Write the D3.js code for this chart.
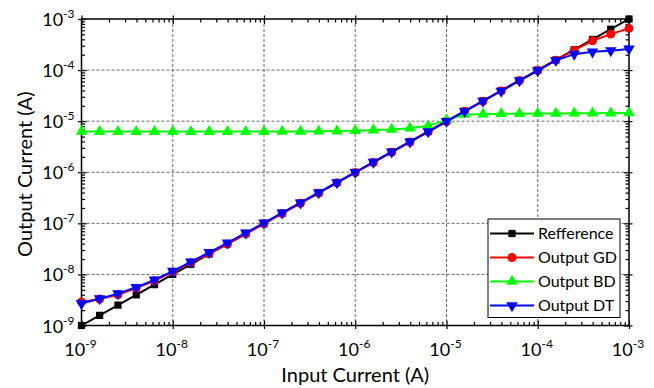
<!DOCTYPE html>
<html>
<head>
<meta charset="utf-8">
<script src="https://cdn.jsdelivr.net/npm/d3@7"></script>
<style>
  html, body { margin: 0; padding: 0; background: #fff; }
  svg { display: block; font-family: Lato, "Open Sans", sans-serif; }
</style>
</head>
<body>
<div id="chart"></div>
<script>
// input current (A), 5 points per decade
const inputCurrent = [1e-9, 1.58e-9, 2.51e-9, 3.98e-9, 6.31e-9, 1e-8, 1.58e-8, 2.51e-8, 3.98e-8, 6.31e-8,
  1e-7, 1.58e-7, 2.51e-7, 3.98e-7, 6.31e-7, 1e-6, 1.58e-6, 2.51e-6, 3.98e-6, 6.31e-6,
  1e-5, 1.58e-5, 2.51e-5, 3.98e-5, 6.31e-5, 1e-4, 1.58e-4, 2.51e-4, 3.98e-4, 6.31e-4, 1e-3];

const refference = [1e-9, 1.58e-9, 2.51e-9, 3.98e-9, 6.31e-9, 1e-8, 1.58e-8, 2.51e-8, 3.98e-8, 6.31e-8,
  1e-7, 1.58e-7, 2.51e-7, 3.98e-7, 6.31e-7, 1e-6, 1.58e-6, 2.51e-6, 3.98e-6, 6.31e-6,
  1e-5, 1.58e-5, 2.51e-5, 3.98e-5, 6.31e-5, 1e-4, 1.58e-4, 2.51e-4, 3.98e-4, 6.31e-4, 1e-3];

const outputGD = [2.9e-9, 3.3e-9, 4.0e-9, 5.4e-9, 7.5e-9, 1.12e-8, 1.7e-8, 2.55e-8, 3.9e-8, 6.2e-8,
  9.8e-8, 1.55e-7, 2.47e-7, 3.9e-7, 6.2e-7, 9.8e-7, 1.55e-6, 2.47e-6, 3.9e-6, 6.2e-6,
  9.8e-6, 1.55e-5, 2.47e-5, 3.9e-5, 6.2e-5, 9.8e-5, 1.56e-4, 2.45e-4, 3.75e-4, 5.05e-4, 6.55e-4];

const outputBD = [6.3e-6, 6.25e-6, 6.25e-6, 6.25e-6, 6.25e-6, 6.25e-6, 6.25e-6, 6.25e-6, 6.25e-6, 6.25e-6,
  6.25e-6, 6.3e-6, 6.3e-6, 6.35e-6, 6.4e-6, 6.5e-6, 6.7e-6, 6.9e-6, 7.3e-6, 8.1e-6,
  1.05e-5, 1.35e-5, 1.37e-5, 1.4e-5, 1.4e-5, 1.42e-5, 1.42e-5, 1.43e-5, 1.43e-5, 1.44e-5, 1.45e-5];

const outputDT = [2.7e-9, 3.35e-9, 4.2e-9, 5.6e-9, 7.8e-9, 1.16e-8, 1.76e-8, 2.7e-8, 4.15e-8, 6.5e-8,
  1.02e-7, 1.6e-7, 2.53e-7, 4.0e-7, 6.3e-7, 1.0e-6, 1.58e-6, 2.5e-6, 3.95e-6, 6.25e-6,
  9.9e-6, 1.56e-5, 2.48e-5, 3.9e-5, 6.2e-5, 9.8e-5, 1.55e-4, 2.05e-4, 2.28e-4, 2.4e-4, 2.6e-4];

const seriesNames = ['Refference', 'Output GD', 'Output BD', 'Output DT'];
const decadeExponents = [-9, -8, -7, -6, -5, -4, -3];

const W = 654, H = 388;
const margin = { top: 19, right: 25, bottom: 62.5, left: 81.5 };
const width = W - margin.left - margin.right;
const height = H - margin.top - margin.bottom;

const svg = d3.select('#chart').append('svg')
  .attr('width', W).attr('height', H);
const g = svg.append('g').attr('transform', `translate(${margin.left},${margin.top})`);

const x = d3.scaleLog().domain([1e-9, 1e-3]).range([0, width]);
const y = d3.scaleLog().domain([1e-9, 1e-3]).range([height, 0]);

const majors = decadeExponents.map(e => Math.pow(10, e));
const minors = [];
decadeExponents.slice(0, -1).forEach(e => {
  for (let m = 2; m <= 9; m++) minors.push(m * Math.pow(10, e));
});

// grid
g.append('g').selectAll('line').data(majors.slice(1, -1)).join('line')
  .attr('x1', d => x(d)).attr('x2', d => x(d)).attr('y1', 0).attr('y2', height)
  .attr('stroke', '#666').attr('stroke-width', 1).attr('stroke-dasharray', '3,2');
g.append('g').selectAll('line').data(majors.slice(1, -1)).join('line')
  .attr('y1', d => y(d)).attr('y2', d => y(d)).attr('x1', 0).attr('x2', width)
  .attr('stroke', '#666').attr('stroke-width', 1).attr('stroke-dasharray', '3,2');

// ticks: minors inward, majors both sides
function tickAxis(axisFn, scale, vals, size, transform) {
  const a = g.append('g').attr('transform', transform || null)
    .call(axisFn(scale).tickValues(vals).tickSize(size).tickFormat(''));
  a.select('.domain').remove();
  a.selectAll('.tick line').attr('stroke', '#000').attr('stroke-width', 1.2);
}
tickAxis(d3.axisBottom, x, minors, -3.5, `translate(0,${height})`);
tickAxis(d3.axisBottom, x, majors, -5, `translate(0,${height})`);
tickAxis(d3.axisBottom, x, majors, 3.5, `translate(0,${height})`);
tickAxis(d3.axisTop, x, minors, -3.5);
tickAxis(d3.axisTop, x, majors, -5);
tickAxis(d3.axisTop, x, majors, 3.5);
tickAxis(d3.axisLeft, y, minors, -3.5);
tickAxis(d3.axisLeft, y, majors, -5);
tickAxis(d3.axisLeft, y, majors, 3.5);
tickAxis(d3.axisRight, y, minors, -3.5, `translate(${width},0)`);
tickAxis(d3.axisRight, y, majors, -5, `translate(${width},0)`);
tickAxis(d3.axisRight, y, majors, 3.5, `translate(${width},0)`);

// frame
g.append('rect').attr('width', width).attr('height', height)
  .attr('fill', 'none').attr('stroke', '#000').attr('stroke-width', 1.5);

// tick labels 10^e
function powLabel(sel, e) {
  sel.append('tspan').text('10');
  sel.append('tspan').attr('dy', -8).attr('font-size', 12).text(e);
}
decadeExponents.forEach(e => {
  const t = g.append('text').attr('x', x(Math.pow(10, e)) - 1).attr('y', height + 30)
    .attr('text-anchor', 'middle').attr('font-size', 18).attr('fill', '#000');
  powLabel(t, e);
  const t2 = g.append('text').attr('x', -7).attr('y', y(Math.pow(10, e)) + 7)
    .attr('text-anchor', 'end').attr('font-size', 18).attr('fill', '#000');
  powLabel(t2, e);
});

// axis titles
svg.append('text').attr('x', margin.left + width / 2).attr('y', 382)
  .attr('text-anchor', 'middle').attr('font-size', 20).text('Input Current (A)');
svg.append('text').attr('transform', `translate(32,${margin.top + height / 2 + 2}) rotate(-90)`)
  .attr('text-anchor', 'middle').attr('font-size', 20).text('Output Current (A)');

// series
const series = [
  { name: seriesNames[0], values: refference, color: '#000000', symbol: d3.symbolSquare, size: 52, rot: 0 },
  { name: seriesNames[1], values: outputGD, color: '#ff0000', symbol: d3.symbolCircle, size: 62, rot: 0 },
  { name: seriesNames[2], values: outputBD, color: '#00ff00', symbol: d3.symbolTriangle, size: 58, rot: 0 },
  { name: seriesNames[3], values: outputDT, color: '#0000ff', symbol: d3.symbolTriangle, size: 58, rot: 180 }
];

const line = d3.line().x(d => x(d[0])).y(d => y(d[1]));
const plot = g.append('g');
series.forEach(s => {
  const pts = inputCurrent.map((v, i) => [v, s.values[i]]);
  plot.append('path').datum(pts).attr('d', line)
    .attr('fill', 'none').attr('stroke', s.color).attr('stroke-width', 2);
  plot.append('g').selectAll('path').data(pts).join('path')
    .attr('d', d3.symbol().type(s.symbol).size(s.size))
    .attr('transform', d => `translate(${x(d[0])},${y(d[1])}) rotate(${s.rot})`)
    .attr('fill', s.color);
});

// legend
const lg = svg.append('g').attr('transform', 'translate(488,219)');
lg.append('rect').attr('width', 132).attr('height', 98.5)
  .attr('fill', '#fff').attr('stroke', '#000').attr('stroke-width', 1);
series.forEach((s, i) => {
  const cy = 14.5 + i * 24;
  lg.append('line').attr('x1', 2).attr('x2', 46).attr('y1', cy).attr('y2', cy)
    .attr('stroke', s.color).attr('stroke-width', 2);
  lg.append('path').attr('d', d3.symbol().type(s.symbol).size(s.size))
    .attr('transform', `translate(24,${cy}) rotate(${s.rot})`).attr('fill', s.color);
  lg.append('text').attr('x', 50).attr('y', cy + 5.5).attr('font-size', 16).text(s.name);
});
</script>
</body>
</html>
